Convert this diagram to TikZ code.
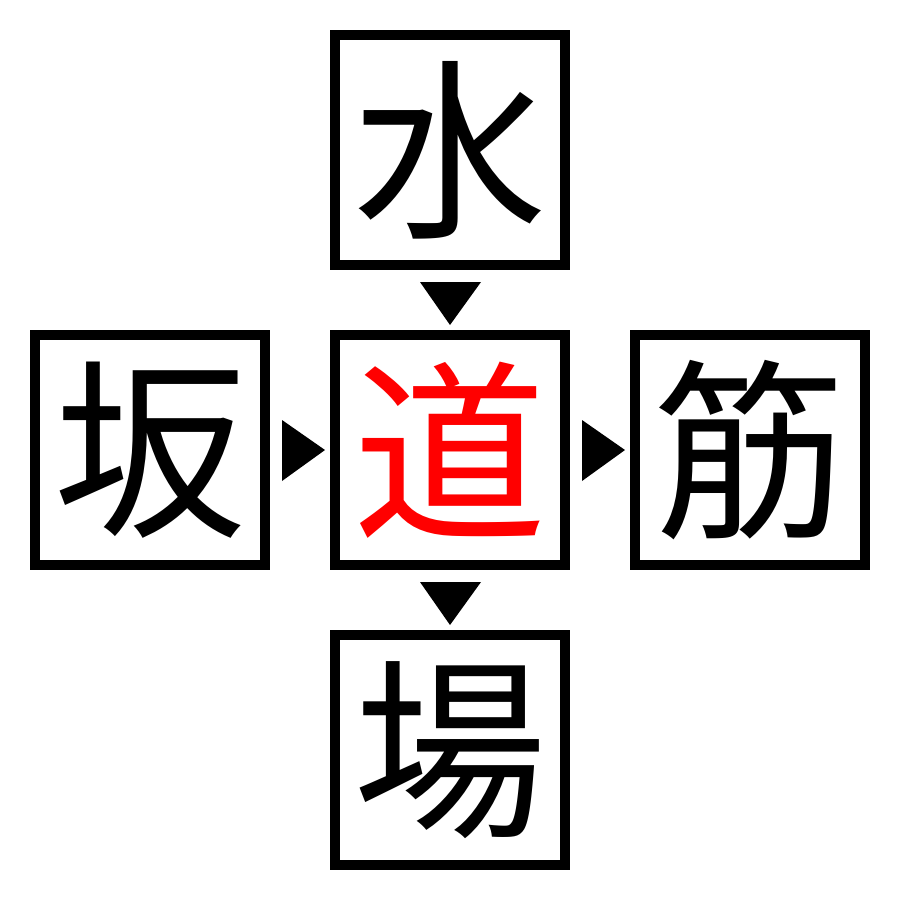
\documentclass[tikz,border=0pt]{standalone}
\usepackage{fontspec}
\newfontfamily\cjk{Noto Sans CJK JP}
\begin{document}
\begin{tikzpicture}[x=0.01cm,y=-0.01cm,
  kbox/.style={draw=black,line width=2.845pt,minimum size=2.3cm,inner sep=0pt,font=\cjk\fontsize{55}{55}\selectfont},
  tri/.style={fill=black}]
\useasboundingbox (0,0) rectangle (900,900);
\node[kbox] (top) at (450,150) {水};
\node[kbox] (left) at (150,450) {坂};
\node[kbox,text=red] (mid) at (450,450) {道};
\node[kbox] (right) at (750,450) {筋};
\node[kbox] (bot) at (450,750) {場};
% arrow markers
\fill[tri] (420,282) -- (481,282) -- (450,325) -- cycle;
\fill[tri] (420,582) -- (481,582) -- (450,625) -- cycle;
\fill[tri] (282,420) -- (282,481) -- (325,450) -- cycle;
\fill[tri] (582,420) -- (582,481) -- (625,450) -- cycle;
\end{tikzpicture}
\end{document}
